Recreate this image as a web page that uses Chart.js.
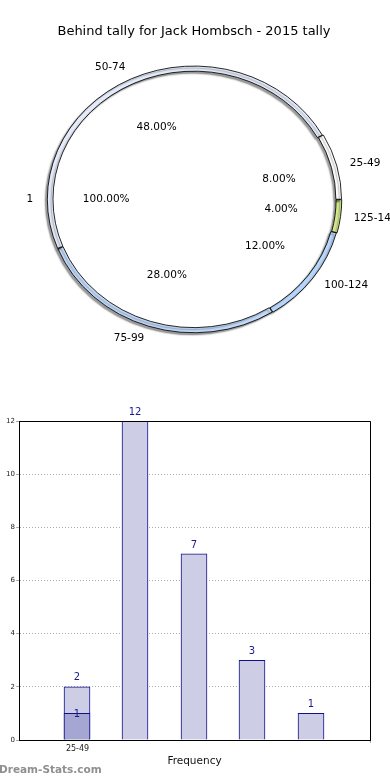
<!DOCTYPE html>
<html><head><meta charset="utf-8">
<script src="https://cdn.jsdelivr.net/npm/chart.js@4.4.1/dist/chart.umd.min.js"></script>
<style>
html,body{margin:0;padding:0;background:#fff;width:390px;height:780px;overflow:hidden;position:relative;}
#pie{position:absolute;left:0;top:0;}
#bar{position:absolute;left:0;top:390px;}
#wm{position:absolute;left:-1px;top:763px;font:bold 10.5px "DejaVu Sans";color:#8f8f8f;white-space:nowrap;}
</style></head><body>
<canvas id="pie" width="390" height="390"></canvas>
<canvas id="bar" width="390" height="390"></canvas>
<div id="wm">Dream-Stats.com</div>
<script>
// ---- data ----
const chartTitle = 'Behind tally for Jack Hombsch - 2015 tally';
const categories = ['25-49', '50-74', '75-99', '100-124', '125-149'];
const frequencies = [2, 12, 7, 3, 1];
const innerCategories = ['1'];
const innerValues = [1];
const overlayValues = [1];          // darker inner bar at 25-49
const xTickLabels = ['25-49'];
const yTickValues = [0, 2, 4, 6, 8, 10, 12];
const ringColors = ['#ffffff', '#e6ecfa', '#c3daf9', '#b9d6fb', '#d4e98d'];
const ringOffsets = [3, 1, 1, 2, 3];

Chart.defaults.font.family = '"DejaVu Sans", sans-serif';
Chart.defaults.color = '#000';

// ---- pie (clockwise order from 3 o'clock) ----
const pieLabels = categories.slice().reverse();
const pieValues = frequencies.slice().reverse();
const pieColors = ringColors.slice().reverse();
const pieOffsets = ringOffsets.slice().reverse();
const XS = 1.1;

const ellipsePlugin = {
  id: 'ellipse',
  beforeDatasetsDraw(chart) {
    const a = chart.getDatasetMeta(0).data[0];
    const ctx = chart.ctx;
    ctx.save();
    ctx.translate(a.x, a.y); ctx.scale(XS, 1); ctx.translate(-a.x, -a.y);
  },
  beforeDatasetDraw(chart, args) {
    const ctx = chart.ctx;
    if (args.index === 0) {
      ctx.shadowColor = 'rgba(0,0,0,0.4)';
      ctx.shadowOffsetX = -2; ctx.shadowOffsetY = 2; ctx.shadowBlur = 1.5;
    } else {
      ctx.shadowColor = 'rgba(0,0,0,0)';
    }
  },
  afterDatasetDraw(chart) {
    chart.ctx.shadowColor = 'rgba(0,0,0,0)';
  },
  afterDatasetsDraw(chart) {
    const ctx = chart.ctx;
    ctx.restore();
    const R = chart.getDatasetMeta(0).data[0].outerRadius;
    ctx.save();
    ctx.font = '10.5px "DejaVu Sans"';
    ctx.fillStyle = '#000';
    ctx.textBaseline = 'middle';
    chart.data.datasets.forEach((ds, di) => {
      const meta = chart.getDatasetMeta(di);
      const sum = ds.data.reduce((a, b) => a + b, 0);
      meta.data.forEach((arc, i) => {
        const p = arc.getProps(['x', 'y', 'startAngle', 'endAngle']);
        const mid = (p.startAngle + p.endAngle) / 2;
        const c = Math.cos(mid), s = Math.sin(mid);
        ctx.textAlign = 'center';
        ctx.fillText((ds.data[i] / sum * 100).toFixed(2) + '%', p.x + c * R * 0.6 * XS, p.y + s * R * 0.6);
        ctx.textAlign = c >= 0 ? 'left' : 'right';
        ctx.fillText(ds.labels[i], p.x + c * R * 1.1 * XS, p.y + s * R * 1.1);
      });
    });
    ctx.restore();
  }
};

new Chart(document.getElementById('pie'), {
  type: 'doughnut',
  data: {
    labels: pieLabels,
    datasets: [
      { labels: pieLabels, data: pieValues, backgroundColor: pieColors, borderColor: '#000', borderWidth: 0.8,
        offset: pieOffsets, weight: 1, rotation: 90 },
      { labels: innerCategories, data: innerValues, backgroundColor: '#ffffff', borderWidth: 0,
        weight: 25, rotation: 90 }
    ]
  },
  options: {
    responsive: false, animation: false, cutout: 0, radius: 133,
    layout: { padding: { top: 0, left: 0, right: 2, bottom: 40.6 } },
    plugins: {
      legend: { display: false }, tooltip: { enabled: false },
      title: { display: true, text: chartTitle, font: { size: 13, weight: 'normal' }, color: '#000',
               padding: { top: 24, bottom: 10 } }
    }
  },
  plugins: [ellipsePlugin]
});

// ---- bar ----
const barLabelPlugin = {
  id: 'barLabels',
  beforeDatasetsDraw(chart) {
    // snap bar centres to whole pixels so the 1px outlines stay crisp
    chart.data.datasets.forEach((ds, di) => {
      chart.getDatasetMeta(di).data.forEach(bar => { bar.x = Math.floor(bar.x - 0.5); });
    });
  },
  afterDatasetsDraw(chart) {
    const ctx = chart.ctx, a = chart.chartArea;
    ctx.save();
    ctx.strokeStyle = '#000'; ctx.lineWidth = 1;
    ctx.beginPath();
    ctx.moveTo(a.left, a.top + 0.5); ctx.lineTo(a.right + 0.5, a.top + 0.5); ctx.lineTo(a.right + 0.5, a.bottom);
    ctx.stroke();
    ctx.font = '10px "DejaVu Sans"';
    ctx.fillStyle = '#1a1a8c';
    ctx.textAlign = 'center'; ctx.textBaseline = 'middle';
    chart.data.datasets.forEach((ds, di) => {
      const meta = chart.getDatasetMeta(di);
      meta.data.forEach((bar, i) => {
        const v = ds.data[i].y;
        const y = ds.isOverlay ? bar.y + 1 : bar.y - 9;
        ctx.fillText(String(v), bar.x, y);
      });
    });
    ctx.restore();
  }
};

new Chart(document.getElementById('bar'), {
  type: 'bar',
  data: {
    datasets: [
      { isOverlay: true, data: overlayValues.map((v, i) => ({ x: i + 1, y: v })), backgroundColor: '#a6a6d3',
        borderColor: '#10108a', borderWidth: 1, grouped: false, order: 0, barThickness: 26 },
      { data: frequencies.map((v, i) => ({ x: i + 1, y: v })), backgroundColor: '#cdcde5',
        borderColor: '#10108a', borderWidth: 1, grouped: false, order: 1, barThickness: 26 }
    ]
  },
  options: {
    responsive: false, animation: false,
    layout: { padding: { top: 31, right: 20, left: 0, bottom: 0 } },
    plugins: { legend: { display: false }, tooltip: { enabled: false } },
    scales: {
      x: {
        type: 'linear', min: 0, max: categories.length + 1, offset: false,
        afterFit(s) { s.height = 40; },
        afterBuildTicks(s) { s.ticks = xTickLabels.map((l, i) => ({ value: i + 1 })); },
        ticks: { callback: v => xTickLabels[v - 1] || '', font: { size: 8 }, color: '#222', padding: 1,
                 maxRotation: 0, autoSkip: false },
        grid: { color: '#aaaaaa', lineWidth: 1, tickLength: 3, tickColor: '#aaaaaa' },
        border: { display: true, color: '#000', width: 1, dash: [1, 2] },
        title: { display: true, text: 'Frequency', font: { size: 10.5 }, color: '#111', padding: { top: 0, bottom: 12.7 } }
      },
      y: {
        min: 0, max: 12,
        afterFit(s) { s.width = 19; },
        afterBuildTicks(s) { s.ticks = yTickValues.map(v => ({ value: v })); },
        ticks: { font: { size: 7 }, color: '#222', padding: 1 },
        grid: { color: '#aaaaaa', lineWidth: 1, tickLength: 3, tickColor: '#aaaaaa' },
        border: { display: true, color: '#000', width: 1, dash: [1, 2] }
      }
    }
  },
  plugins: [barLabelPlugin]
});
</script>
</body></html>
